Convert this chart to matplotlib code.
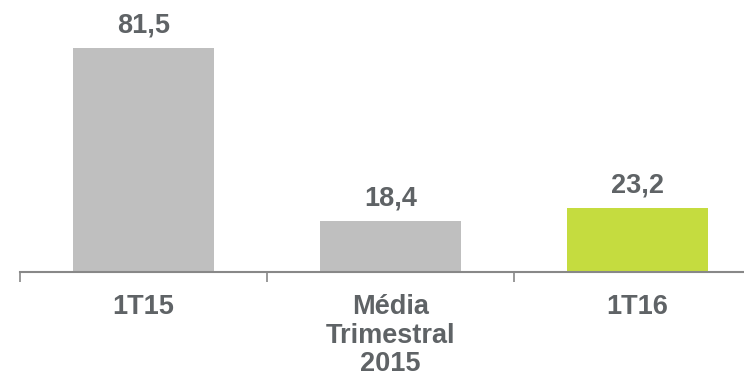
import numpy as np
import matplotlib.pyplot as plt

plt.rcParams['font.family'] = ['Liberation Sans', 'DejaVu Sans']

categories = ['1T15', 'Média\nTrimestral\n2015', '1T16']
values = [81.5, 18.4, 23.2]
labels = ['81,5', '18,4', '23,2']
colors = ['#bfbfbf', '#bfbfbf', '#c5dc3f']
text_color = '#5f6366'

fig = plt.figure(figsize=(7.44, 3.79), dpi=100)
# axis runs past the right edge, like the original export
ax = fig.add_axes([20 / 744, 107 / 379, 741 / 744, 272 / 379])

x = np.arange(len(values))
ax.bar(x, values, width=0.57, color=colors)

for xi, v, lab in zip(x, values, labels):
    ax.annotate(lab, (xi, v), xytext=(0, 11.5), textcoords='offset points',
                ha='center', va='baseline', fontsize=19.5, fontweight='bold',
                color=text_color)

ax.set_xlim(-0.5, len(values) - 0.5)
ax.set_ylim(0, 99)

for s in ['top', 'right', 'left']:
    ax.spines[s].set_visible(False)
ax.spines['bottom'].set_color('#888888')
ax.spines['bottom'].set_linewidth(1.5)

ax.set_yticks([])
ax.set_xticks(np.arange(len(values) + 1) - 0.5)
ax.set_xticklabels([])
ax.tick_params(axis='x', which='major', length=7, width=1.2, color='#888888',
               direction='out')
ax.set_xticks(x, minor=True)
ax.set_xticklabels(categories, minor=True, fontsize=19.5, fontweight='bold',
                   color=text_color, linespacing=1.12, va='top')
ax.tick_params(axis='x', which='minor', length=0, pad=16)

fig.savefig('out.png', dpi=100)
